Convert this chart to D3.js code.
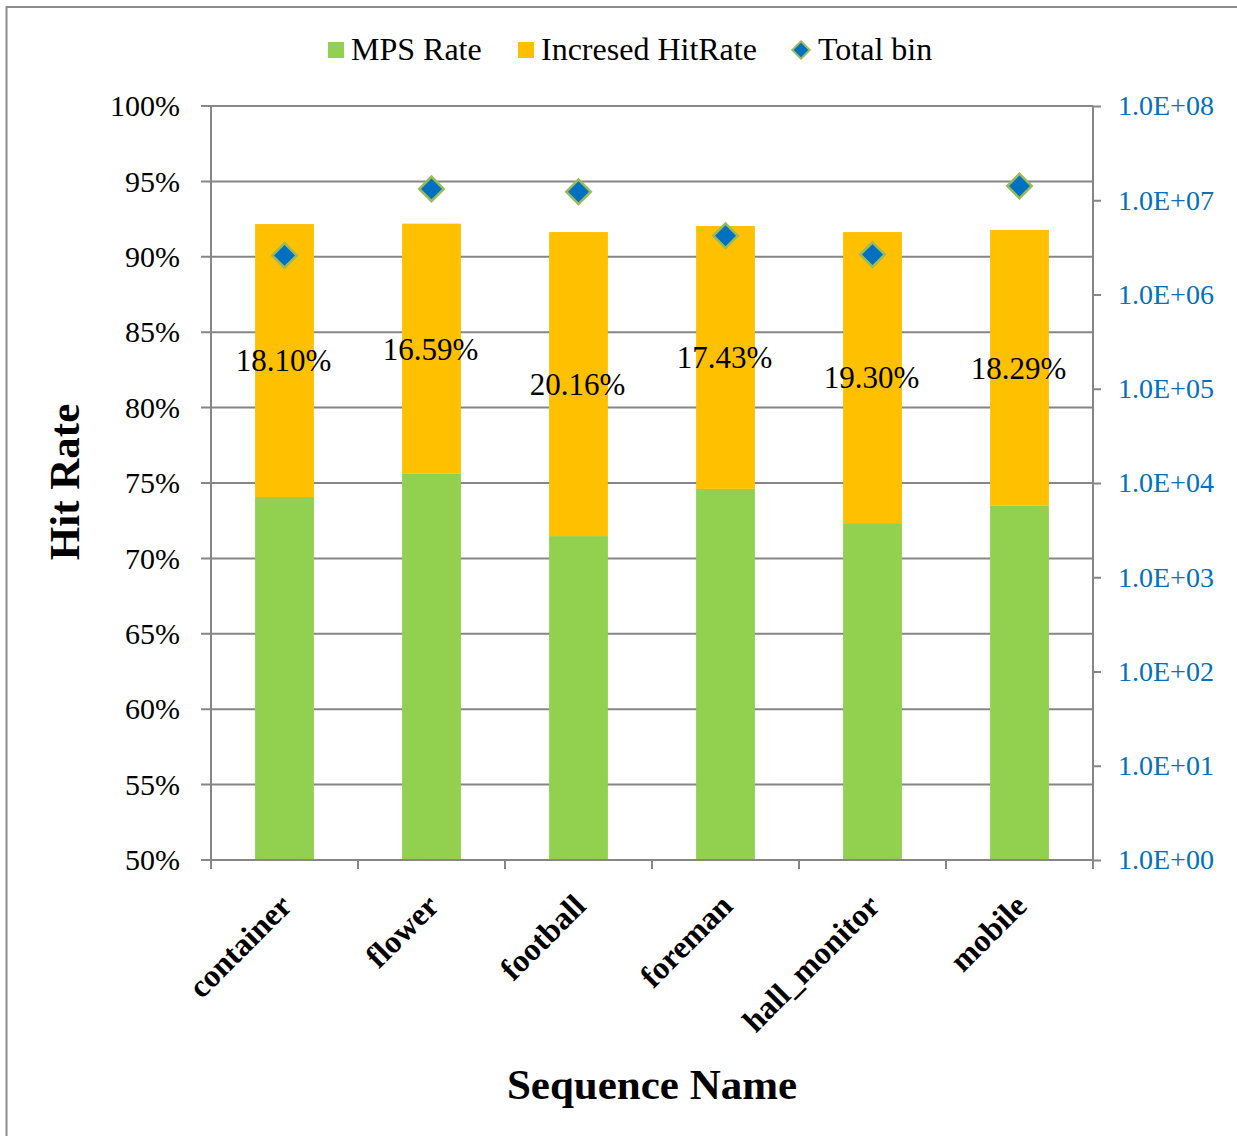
<!DOCTYPE html>
<html>
<head>
<meta charset="utf-8">
<script src="https://cdn.jsdelivr.net/npm/d3@7"></script>
<style>
  html, body { margin: 0; padding: 0; background: #fff; }
  svg { display: block; font-family: "Liberation Serif", "Times New Roman", serif; }
</style>
</head>
<body>
<svg id="chart" width="1237" height="1136"></svg>
<script>
// Sequence names along the x axis
const categories = ["container", "flower", "football", "foreman", "hall_monitor", "mobile"];
// Base hit rate (%) per sequence
const mpsRate = [74.07, 75.61, 71.48, 74.61, 72.34, 73.49];
// Additional hit rate (%) stacked on top
const increasedHitRate = [18.10, 16.59, 20.16, 17.43, 19.30, 18.29];
// Total bin counts, plotted on the right log axis
const totalBin = [2.6e6, 1.32e7, 1.23e7, 4.2e6, 2.65e6, 1.42e7];
// Axis ticks
const leftTicks = [50, 55, 60, 65, 70, 75, 80, 85, 90, 95, 100];
const rightTicks = [1e0, 1e1, 1e2, 1e3, 1e4, 1e5, 1e6, 1e7, 1e8];
const rightTickLabels = ["1.0E+00", "1.0E+01", "1.0E+02", "1.0E+03", "1.0E+04", "1.0E+05", "1.0E+06", "1.0E+07", "1.0E+08"];
const seriesNames = ["MPS Rate", "Incresed HitRate", "Total bin"];

const colors = { mps: "#92D050", inc: "#FFC000", bin: "#0070C0", binStroke: "#9BBB59", grid: "#868686", blueText: "#0070C0" };
const serif = "Liberation Serif";

const svg = d3.select("#chart");
const plot = { left: 211, right: 1093, top: 106, bottom: 860 };

// outer frame
svg.append("rect")
  .attr("x", 6.5).attr("y", 7).attr("width", 1300).attr("height", 1300)
  .attr("fill", "none").attr("stroke", "#8c8c8c").attr("stroke-width", 2);

const x = d3.scaleBand().domain(categories).range([plot.left, plot.right]).paddingInner(0).paddingOuter(0);
const y = d3.scaleLinear().domain([50, 100]).range([plot.bottom, plot.top]);
const yR = d3.scaleLog().domain([1, 1e8]).range([plot.bottom, plot.top]);
const barW = x.bandwidth() * 0.4;

// horizontal gridlines with left ticks
const gl = svg.append("g");
leftTicks.forEach(t => {
  gl.append("line")
    .attr("x1", plot.left - 10).attr("x2", plot.right)
    .attr("y1", y(t)).attr("y2", y(t))
    .attr("stroke", colors.grid).attr("stroke-width", 2);
});

// stacked bars
const bars = svg.append("g");
categories.forEach((c, i) => {
  const cx = x(c) + x.bandwidth() / 2;
  bars.append("rect")
    .attr("x", cx - barW / 2).attr("width", barW)
    .attr("y", y(mpsRate[i])).attr("height", y(50) - y(mpsRate[i]))
    .attr("fill", colors.mps);
  const top = mpsRate[i] + increasedHitRate[i];
  bars.append("rect")
    .attr("x", cx - barW / 2).attr("width", barW)
    .attr("y", y(top)).attr("height", y(mpsRate[i]) - y(top))
    .attr("fill", colors.inc);
});

// left axis
const leftAxis = d3.axisLeft(y).tickValues(leftTicks).tickFormat(d => d + "%").tickSize(0).tickPadding(31);
const la = svg.append("g").attr("transform", `translate(${plot.left},0)`).call(leftAxis);
la.select(".domain").remove();
la.selectAll("text").attr("font-size", 30).attr("fill", "#000").attr("font-family", serif);
svg.append("line").attr("x1", plot.left).attr("x2", plot.left).attr("y1", plot.top).attr("y2", plot.bottom + 9)
  .attr("stroke", colors.grid).attr("stroke-width", 2);

// right log axis
const rightAxis = d3.axisRight(yR).tickValues(rightTicks).tickFormat((d, i) => rightTickLabels[i]).tickSize(8).tickPadding(17);
const ra = svg.append("g").attr("transform", `translate(${plot.right},0)`).call(rightAxis);
ra.select(".domain").remove();
ra.selectAll(".tick line").attr("stroke", colors.grid).attr("stroke-width", 2);
ra.selectAll("text").attr("font-size", 28).attr("fill", colors.blueText).attr("font-family", serif);
svg.append("line").attr("x1", plot.right).attr("x2", plot.right).attr("y1", plot.top).attr("y2", plot.bottom + 9)
  .attr("stroke", colors.grid).attr("stroke-width", 2);

// bottom axis with ticks at category boundaries
svg.append("line").attr("x1", plot.left).attr("x2", plot.right).attr("y1", plot.bottom).attr("y2", plot.bottom)
  .attr("stroke", colors.grid).attr("stroke-width", 2);
const bounds = categories.map(c => x(c)).concat([plot.right]);
bounds.forEach(b => {
  svg.append("line").attr("x1", b).attr("x2", b).attr("y1", plot.bottom).attr("y2", plot.bottom + 9)
    .attr("stroke", colors.grid).attr("stroke-width", 2);
});
categories.forEach(c => {
  const cx = x(c) + x.bandwidth() / 2;
  svg.append("text")
    .attr("transform", `translate(${cx + 1},${plot.bottom + 40}) rotate(-45)`)
    .attr("text-anchor", "end").attr("dy", "0.35em")
    .attr("font-size", 32).attr("font-weight", "bold").attr("fill", "#000").attr("font-family", serif)
    .text(c);
});

// value labels for the increased hit rate segment
categories.forEach((c, i) => {
  const cx = x(c) + x.bandwidth() / 2;
  const mid = (y(mpsRate[i]) + y(mpsRate[i] + increasedHitRate[i])) / 2;
  svg.append("text")
    .attr("x", cx - 1).attr("y", mid)
    .attr("text-anchor", "middle").attr("dy", "0.35em")
    .attr("font-size", 31).attr("fill", "#000").attr("font-family", serif)
    .text(increasedHitRate[i].toFixed(2) + "%");
});

// total bin diamonds
const diamond = d3.symbol().type(d3.symbolSquare).size(300);
categories.forEach((c, i) => {
  const cx = x(c) + x.bandwidth() / 2;
  svg.append("path")
    .attr("d", diamond())
    .attr("transform", `translate(${cx},${yR(totalBin[i])}) rotate(45)`)
    .attr("fill", colors.bin).attr("stroke", colors.binStroke).attr("stroke-width", 2.5);
});

// axis titles
svg.append("text")
  .attr("transform", `translate(79,482) rotate(-90)`)
  .attr("text-anchor", "middle").attr("font-family", serif)
  .attr("font-size", 43).attr("font-weight", "bold").text("Hit Rate");
svg.append("text")
  .attr("x", 652).attr("y", 1099)
  .attr("text-anchor", "middle").attr("font-family", serif)
  .attr("font-size", 43).attr("font-weight", "bold").text("Sequence Name");

// legend
const legend = svg.append("g");
const legendItems = [
  { name: seriesNames[0], type: "rect", color: colors.mps, x: 328, tx: 351 },
  { name: seriesNames[1], type: "rect", color: colors.inc, x: 518, tx: 541 },
  { name: seriesNames[2], type: "diamond", color: colors.bin, x: 792, tx: 818 }
];
legendItems.forEach(it => {
  if (it.type === "rect") {
    legend.append("rect").attr("x", it.x).attr("y", 42).attr("width", 16).attr("height", 16).attr("fill", it.color);
  } else {
    legend.append("path").attr("d", d3.symbol().type(d3.symbolSquare).size(150)())
      .attr("transform", `translate(${it.x + 9},50) rotate(45)`)
      .attr("fill", it.color).attr("stroke", colors.binStroke).attr("stroke-width", 2);
  }
  legend.append("text").attr("x", it.tx).attr("y", 60).attr("font-size", 32).attr("fill", "#000")
    .attr("font-family", serif).text(it.name);
});
</script>
</body>
</html>
